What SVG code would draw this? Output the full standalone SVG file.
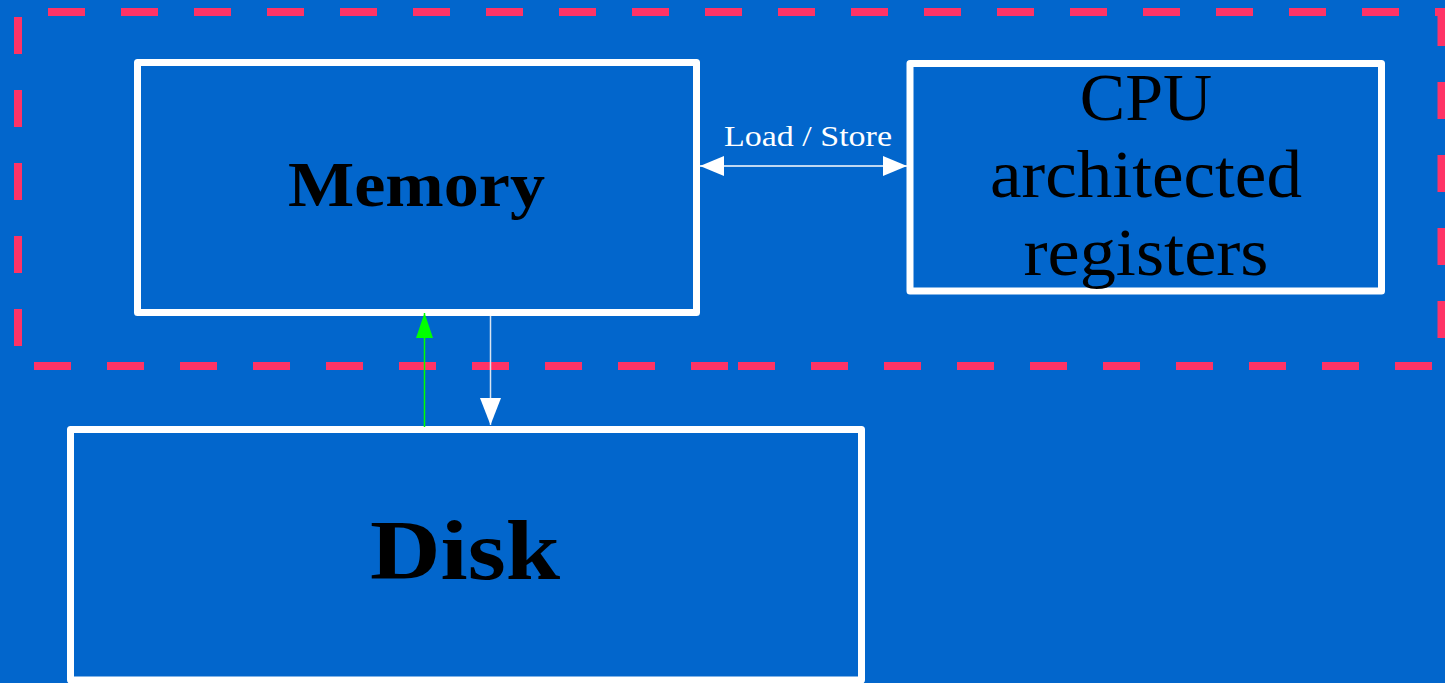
<svg xmlns="http://www.w3.org/2000/svg" width="1445" height="683" viewBox="0 0 1445 683">
  <style>
    .frame { fill: none; stroke: #FF3366; stroke-width: 8; stroke-dasharray: 37 36; }
    .box { fill: #0266CC; stroke: #FFFFFF; stroke-width: 7; stroke-linejoin: round; }
    .serif { font-family: "Liberation Serif", "DejaVu Serif", serif; fill: #000000; }
    .bold { font-weight: bold; }
  </style>
  <defs>
    <marker id="whiteHead" viewBox="0 0 24 20" refX="24" refY="10" markerWidth="24" markerHeight="20" markerUnits="userSpaceOnUse" orient="auto-start-reverse">
      <path d="M0,0 L24,10 L0,20 Z" fill="#FFFFFF"/>
    </marker>
    <marker id="greenHead" viewBox="0 0 25 17" refX="25" refY="8.5" markerWidth="25" markerHeight="17" markerUnits="userSpaceOnUse" orient="auto">
      <path d="M0,0 L25,8.5 L0,17 Z" fill="#00FF00"/>
    </marker>
    <marker id="downHead" viewBox="0 0 27 21" refX="27" refY="10.5" markerWidth="27" markerHeight="21" markerUnits="userSpaceOnUse" orient="auto">
      <path d="M0,0 L27,10.5 L0,21 Z" fill="#FFFFFF"/>
    </marker>
  </defs>
  <rect x="0" y="0" width="1445" height="683" fill="#0266CC"/>

  <g id="frame">
    <line class="frame" x1="48" y1="12" x2="1445" y2="12"/>
    <line class="frame" x1="18" y1="17" x2="18" y2="366"/>
    <line class="frame" x1="1441.5" y1="9" x2="1441.5" y2="366"/>
    <line class="frame" x1="34" y1="366" x2="730" y2="366"/>
    <line class="frame" x1="738" y1="366" x2="1445" y2="366"/>
  </g>

  <g id="memory">
    <rect class="box" x="137.5" y="62.5" width="559" height="250"/>
    <text class="serif bold" x="416.5" y="206" font-size="64" text-anchor="middle" textLength="257" lengthAdjust="spacingAndGlyphs">Memory</text>
  </g>

  <g id="cpu">
    <rect class="box" x="910" y="63.5" width="471.5" height="227.5"/>
    <text class="serif" x="1146" y="120" font-size="68" text-anchor="middle">CPU</text>
    <text class="serif" x="1146" y="197" font-size="68" text-anchor="middle" textLength="312" lengthAdjust="spacingAndGlyphs">architected</text>
    <text class="serif" x="1146" y="275" font-size="68" text-anchor="middle" textLength="245" lengthAdjust="spacingAndGlyphs">registers</text>
  </g>

  <g id="disk">
    <rect class="box" x="70.5" y="429.5" width="791" height="250.5"/>
    <text class="serif bold" x="465" y="579" font-size="84" text-anchor="middle" textLength="190" lengthAdjust="spacingAndGlyphs">Disk</text>
  </g>

  <g id="connectors">
    <line x1="700" y1="166" x2="907" y2="166" stroke="#FFFFFF" stroke-width="1.5" marker-start="url(#whiteHead)" marker-end="url(#whiteHead)"/>
    <text x="808" y="146" font-family="'Liberation Serif', 'DejaVu Serif', serif" font-size="30" fill="#FFFFFF" text-anchor="middle" textLength="168" lengthAdjust="spacingAndGlyphs">Load / Store</text>
    <line x1="424.5" y1="427" x2="424.5" y2="313" stroke="#00FF00" stroke-width="1.5" marker-end="url(#greenHead)"/>
    <line x1="490.5" y1="316" x2="490.5" y2="425" stroke="#D8E4F2" stroke-width="1.5" marker-end="url(#downHead)"/>
  </g>
</svg>
